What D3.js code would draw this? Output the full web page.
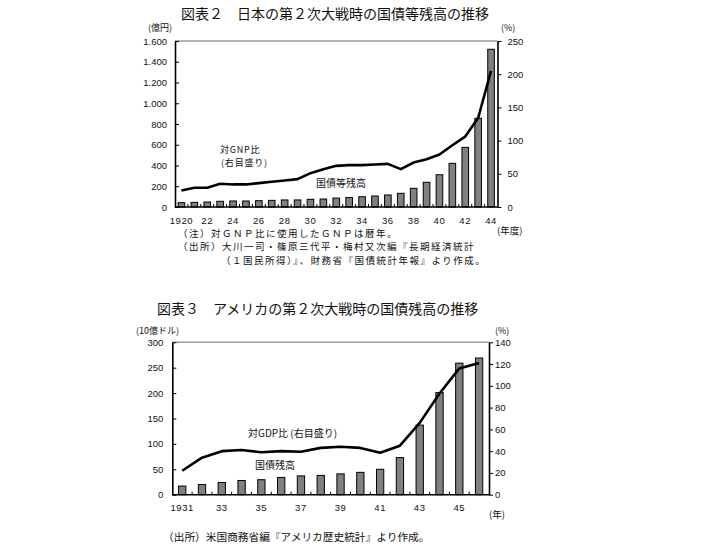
<!DOCTYPE html>
<html><head><meta charset="utf-8">
<script src="https://cdn.jsdelivr.net/npm/d3@7"></script>
<style>body{margin:0;background:#fff} svg{display:block}</style>
</head><body>
<script>
// ---------- Data: Japan (図表２) ----------
const jpYears = [1920,1921,1922,1923,1924,1925,1926,1927,1928,1929,1930,1931,1932,1933,1934,1935,1936,1937,1938,1939,1940,1941,1942,1943,1944];
const jpDebt  = [42,45,48,55,58,58,61,64,68,68,74,77,86,91,99,106,116,132,180,238,311,421,575,855,1520];
const jpRatio = [25,29,29,35,34,34,36,38,40,42,51,57,62,63,63,64,65,57,67,72,79,93,106,134,205];
const jpLeftTicks  = [0,200,400,600,800,1000,1200,1400,1600];
const jpLeftLabels = ["0","200","400","600","800","1.000","1.200","1.400","1.600"];
const jpRightTicks = [0,50,100,150,200,250];
const jpXTickYears = [1920,1922,1924,1926,1928,1930,1932,1934,1936,1938,1940,1942,1944];
const jpXLabels    = ["1920","22","24","26","28","30","32","34","36","38","40","42","44"];

// ---------- Data: USA (図表３) ----------
const usYears = [1931,1932,1933,1934,1935,1936,1937,1938,1939,1940,1941,1942,1943,1944,1945,1946];
const usDebt  = [17,20,24,28,29.5,34,37,38,41,44,50,73,137,201,259,269];
const usRatio = [22,34,40,41,39,40,39.5,43,44,43,38.5,45,66,93,116,121];
const usLeftTicks  = [0,50,100,150,200,250,300];
const usLeftLabels = ["0","50","100","150","200","250","300"];
const usRightTicks = [0,20,40,60,80,100,120,140];
const usXTickYears = [1931,1933,1935,1937,1939,1941,1943,1945];
const usXLabels    = ["1931","33","35","37","39","41","43","45"];

const NUM_FONT = "'Liberation Sans', Arial, sans-serif";
const JP_FONT = "'Noto Sans CJK JP', sans-serif";

const svg = d3.select("body").append("svg").attr("width",702).attr("height",552);

function drawChart(c) {
  const g = svg.append("g");
  const x = d3.scaleBand().domain(c.years).range([c.left, c.right]).padding(0);
  const yL = d3.scaleLinear().domain([0, c.leftTicks[c.leftTicks.length-1]]).range([c.bottom, c.top]);
  const yR = d3.scaleLinear().domain([0, c.rightTicks[c.rightTicks.length-1]]).range([c.bottom, c.top]);

  // top border (gray)
  g.append("line").attr("x1",c.left).attr("x2",c.right).attr("y1",c.top).attr("y2",c.top)
    .attr("stroke","#9a9a9a").attr("stroke-width",1.5);

  // bars
  g.selectAll("rect.bar").data(c.years).join("rect").attr("class","bar")
    .attr("x", d => x(d) + (x.bandwidth()-c.barW)/2)
    .attr("width", c.barW)
    .attr("y", (d,i) => yL(c.debt[i]))
    .attr("height", (d,i) => c.bottom - yL(c.debt[i]))
    .attr("fill","#808080").attr("stroke","#000").attr("stroke-width",1);

  // ratio line
  const line = d3.line().x((d,i) => x(c.years[i]) + x.bandwidth()/2).y(d => yR(d));
  g.append("path").datum(c.ratio).attr("d", line)
    .attr("fill","none").attr("stroke","#000").attr("stroke-width",2.6).attr("stroke-linejoin","round");

  // left axis
  const axL = g.append("g").attr("transform",`translate(${c.left},0)`)
    .call(d3.axisLeft(yL).tickValues(c.leftTicks).tickSizeInner(-4).tickSizeOuter(0).tickPadding(c.lPad)
      .tickFormat((d,i) => c.leftLabels[i]));
  // right axis
  const axR = g.append("g").attr("transform",`translate(${c.right},0)`)
    .call(d3.axisRight(yR).tickValues(c.rightTicks).tickSizeInner(4).tickSizeOuter(0).tickPadding(c.rPad));
  // bottom axis
  const axB = g.append("g").attr("transform",`translate(0,${c.bottom})`)
    .call(d3.axisBottom(x).tickValues(c.xTickYears).tickSize(0).tickPadding(c.bPad)
      .tickFormat((d,i) => c.xLabels[i]));
  axB.select(".domain").attr("d", `M${c.left},0H${c.right}`);
  // small boundary ticks pointing up on bottom axis
  g.selectAll("line.bt").data(c.years.slice(1)).join("line").attr("class","bt")
    .attr("x1", d => x(d)).attr("x2", d => x(d))
    .attr("y1", c.bottom).attr("y2", c.bottom - 3)
    .attr("stroke","#000").attr("stroke-width",1);

  [axL, axR, axB].forEach(a => {
    a.select(".domain").attr("stroke","#000").attr("stroke-width",1.6);
    a.selectAll(".tick line").attr("stroke","#000").attr("stroke-width",1);
    a.selectAll("text").attr("font-family", NUM_FONT).attr("font-size", 9.5).attr("fill","#111");
  });
  axB.selectAll("text").attr("letter-spacing", 0.6);

  // texts
  c.texts.forEach(t => {
    g.append("text").attr("x", t.x).attr("y", t.y).text(t.s)
      .attr("font-family", JP_FONT).attr("font-size", t.size)
      .attr("letter-spacing", t.ls || 0)
      .attr("fill","#111").attr("text-anchor", t.anchor || "start");
  });
}

drawChart({
  years: jpYears, debt: jpDebt, ratio: jpRatio,
  leftTicks: jpLeftTicks, leftLabels: jpLeftLabels, rightTicks: jpRightTicks,
  xTickYears: jpXTickYears, xLabels: jpXLabels,
  left: 175, right: 497.5, top: 41, bottom: 207, barW: 6.6,
  lPad: 8, rPad: 6, bPad: 10,
  texts: [
    {x:181, y:18.5, s:"図表２　日本の第２次大戦時の国債等残高の推移", size:14},
    {x:148, y:31, s:"(億円)", size:9},
    {x:501, y:31, s:"(%)", size:9},
    {x:497, y:234, s:"(年度)", size:9.5},
    {x:220, y:152.5, s:"対GNP比", size:9, ls:0.8},
    {x:221, y:165.8, s:"(右目盛り)", size:9, ls:0.8},
    {x:316, y:187, s:"国債等残高", size:10},
    {x:178, y:236.5, s:"（注）対ＧＮＰ比に使用したＧＮＰは暦年。", size:9.5, ls:1.5},
    {x:178, y:250.4, s:"（出所）大川一司・篠原三代平・梅村又次編『長期経済統計", size:9.5, ls:1.5},
    {x:221, y:264.3, s:"（１国民所得）』、財務省『国債統計年報』より作成。", size:9.5, ls:1.5}
  ]
});

drawChart({
  years: usYears, debt: usDebt, ratio: usRatio,
  leftTicks: usLeftTicks, leftLabels: usLeftLabels, rightTicks: usRightTicks,
  xTickYears: usXTickYears, xLabels: usXLabels,
  left: 172.3, right: 489, top: 342.3, bottom: 494.7, barW: 7.3,
  lPad: 9, rPad: 2, bPad: 10,
  texts: [
    {x:157, y:313.5, s:"図表３　アメリカの第２次大戦時の国債残高の推移", size:14},
    {x:136, y:333.5, s:"(10億ドル)", size:9},
    {x:495, y:333.5, s:"(%)", size:9},
    {x:489, y:517.5, s:"(年)", size:9.5},
    {x:248, y:437, s:"対GDP比 (右目盛り)", size:10},
    {x:255, y:469, s:"国債残高", size:10},
    {x:163, y:540.5, s:"（出所）米国商務省編『アメリカ歴史統計』より作成。", size:10.7}
  ]
});
</script>
</body></html>
